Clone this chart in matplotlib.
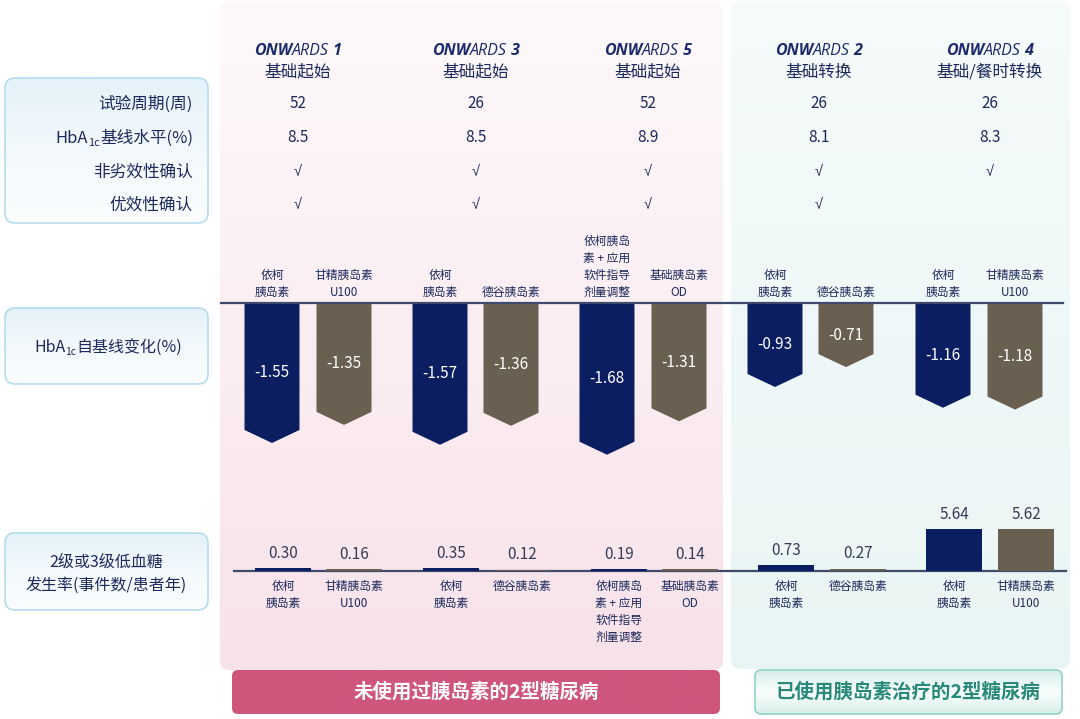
import numpy as np
import matplotlib.pyplot as plt
from matplotlib.patches import FancyBboxPatch, Polygon
from matplotlib.colors import LinearSegmentedColormap

plt.rcParams['font.family'] = ['Noto Sans CJK SC', 'DejaVu Sans']
LAT = ['Open Sans', 'DejaVu Sans']

# ---- data ----
trial_no = ['1', '3', '5', '2', '4']
subtitles = ['基础起始', '基础起始', '基础起始', '基础转换', '基础/餐时转换']
weeks = ['52', '26', '52', '26', '26']
a1c_base = ['8.5', '8.5', '8.9', '8.1', '8.3']
noninferior = ['√', '√', '√', '√', '√']
superior = ['√', '√', '√', '√', '']
efs_names = ['依柯\n胰岛素', '依柯\n胰岛素', '依柯胰岛\n素 + 应用\n软件指导\n剂量调整', '依柯\n胰岛素', '依柯\n胰岛素']
comp_names = ['甘精胰岛素\nU100', '德谷胰岛素', '基础胰岛素\nOD', '德谷胰岛素', '甘精胰岛素\nU100']
a1c_efs = [-1.55, -1.57, -1.68, -0.93, -1.16]
a1c_comp = [-1.35, -1.36, -1.31, -0.71, -1.18]
hypo_efs = [0.30, 0.35, 0.19, 0.73, 5.64]
hypo_comp = [0.16, 0.12, 0.14, 0.27, 5.62]

# ---- layout (pixels) ----
W, H = 1080, 719
col_x = [298, 476, 648, 819, 990]
a1c_x_efs = [272, 440, 607, 775, 943]
a1c_x_comp = [344, 511, 679, 846, 1015]
hypo_x_efs = [283, 451, 619, 786, 954]
hypo_x_comp = [354, 522, 690, 858, 1026]
bw = 55
a1c_zero, a1c_scale = 303, 90.3     # px of 0 and px per % unit
hypo_zero, hypo_scale = 570.5, 7.3

NAVY = '#0c1e62'
BROWN = '#6a6051'
TXT = '#1c2a5c'

fig = plt.figure(figsize=(10.8, 7.19), dpi=100)
fig.patch.set_facecolor('white')
ax = fig.add_axes([0, 0, 1, 1])
ax.axis('off')


def grad_box(x0, y0, x1, y1, colors, r=10, edge='none', lw=1.0, z=0):
    patch = FancyBboxPatch((x0, y0), x1 - x0, y1 - y0,
                           boxstyle=f'round,pad=0,rounding_size={r}',
                           fc='none', ec=edge, lw=lw, zorder=z + 0.5)
    ax.add_patch(patch)
    cmap = LinearSegmentedColormap.from_list('g', colors)
    im = ax.imshow(np.linspace(0, 1, 128).reshape(-1, 1), cmap=cmap,
                   extent=(x0, x1, y1, y0), aspect='auto', zorder=z,
                   interpolation='bilinear')
    im.set_clip_path(patch)


# panels and banners
grad_box(220, 1, 723, 670, ['#fdf9fb', '#fbeef2', '#f8e2ea'], r=10)
grad_box(731, 1, 1070, 669, ['#f6fbfb', '#eff8f8', '#e9f5f4'], r=10)
grad_box(232, 670, 720, 714, ['#cf567c', '#cf567c'], r=6, z=1)
grad_box(755, 670, 1062, 714, ['#d3eee9', '#fbfefd', '#d6efea'], r=6,
         edge='#93d2c6', lw=1.2, z=1)
for y0, y1 in [(78, 223), (308, 384), (533, 610)]:
    grad_box(5, y0, 208, y1, ['#e4f2f9', '#f3f9fc', '#fbfdfe'], r=10,
             edge='#b5dded', lw=1.2, z=1)

ax.set_xlim(0, W)
ax.set_ylim(H, 0)

ax.text(476, 692, '未使用过胰岛素的2型糖尿病', color='white', fontsize=14,
        weight='bold', ha='center', va='center', zorder=3)
ax.text(908, 692, '已使用胰岛素治疗的2型糖尿病', color='#27897a', fontsize=14,
        weight='bold', ha='center', va='center', zorder=3)

renderer = fig.canvas.get_renderer()


def rich(x, y, pieces, ha='center', color=TXT):
    items = []
    for s, size, dy, kw in pieces:
        t = ax.text(0, y + dy, s, fontsize=size, color=color, ha='left',
                    va='baseline', zorder=4, **kw)
        items.append((t, t.get_window_extent(renderer).width))
    total = sum(w for _, w in items)
    x0 = {'left': x, 'center': x - total / 2, 'right': x - total}[ha]
    for t, w in items:
        t.set_x(x0)
        x0 += w


# headers
bi = dict(family=LAT, style='italic', weight='bold')
it = dict(family=LAT, style='italic')
for x, n, sub in zip(col_x, trial_no, subtitles):
    rich(x, 55, [('ONW', 11.5, 0, bi), ('ARDS', 11.5, 0, it), (' ' + n, 11.5, 0, bi)],
         color='#1b2a6b')
    ax.text(x, 72, sub, fontsize=12, color=TXT, ha='center', va='center')

# table rows
row_y = [103, 137, 171, 204]
for y, vals in zip(row_y[:2], [weeks, a1c_base]):
    for x, v in zip(col_x, vals):
        ax.text(x, y, v, fontsize=11, color=TXT, ha='center', va='center')
for y, vals in zip(row_y[2:], [noninferior, superior]):
    for x, v in zip(col_x, vals):
        ax.text(x, y, v, fontsize=10.5, color=TXT, ha='center', va='center',
                family=['Liberation Sans', 'DejaVu Sans'])

# left labels
plain = dict()
rich(193, row_y[0] + 6, [('试验周期(周)', 12, 0, plain)], ha='right')
rich(193, row_y[1] + 6, [('HbA', 12, 0, plain), ('1c', 8, 3, plain),
                         ('基线水平(%)', 12, 0, plain)], ha='right')
rich(193, row_y[2] + 6, [('非劣效性确认', 12, 0, plain)], ha='right')
rich(193, row_y[3] + 6, [('优效性确认', 12, 0, plain)], ha='right')
rich(108, 352, [('HbA', 11.5, 0, plain), ('1c', 7.5, 3, plain),
                ('自基线变化(%)', 11.5, 0, plain)])
ax.text(106, 574, '2级或3级低血糖\n发生率(事件数/患者年)', fontsize=11.5,
        color=TXT, ha='center', va='center', linespacing=1.5)

# arm labels
for xs_a, xs_h, names in [(a1c_x_efs, hypo_x_efs, efs_names),
                          (a1c_x_comp, hypo_x_comp, comp_names)]:
    for xa, xh, nm in zip(xs_a, xs_h, names):
        ax.text(xa, 299, nm, fontsize=8.5, color=TXT, ha='center', va='bottom',
                linespacing=1.4)
        ax.text(xh, 580, nm, fontsize=8.5, color=TXT, ha='center', va='top',
                linespacing=1.4)

# ---- HbA1c change chart ----
ax_a = fig.add_axes([0, 0, 1, 1])
ax_a.axis('off')
ax_a.set_xlim(0, W)
ax_a.set_ylim(-(H - a1c_zero) / a1c_scale, a1c_zero / a1c_scale)
notch = 13 / a1c_scale


def chevron(xc, v, color):
    pts = [(xc - bw / 2, 0), (xc + bw / 2, 0), (xc + bw / 2, v + notch),
           (xc, v), (xc - bw / 2, v + notch)]
    ax_a.add_patch(Polygon(pts, closed=True, fc=color, ec='none', zorder=2))
    ax_a.text(xc, v / 2, f'{v:.2f}', color='white', fontsize=11,
              ha='center', va='center', zorder=3)


for x, v in zip(a1c_x_efs, a1c_efs):
    chevron(x, v, NAVY)
for x, v in zip(a1c_x_comp, a1c_comp):
    chevron(x, v, BROWN)
ax_a.plot([221, 1063], [0, 0], color='#3e4a6c', lw=1.6, zorder=3)

# ---- hypoglycaemia chart ----
ax_h = fig.add_axes([0, 0, 1, 1])
ax_h.axis('off')
ax_h.set_xlim(0, W)
ax_h.set_ylim(-(H - hypo_zero) / hypo_scale, hypo_zero / hypo_scale)
ax_h.plot([234, 1066], [0, 0], color='#3e4a6c', lw=1.6, zorder=1)
ax_h.bar(hypo_x_efs, hypo_efs, width=bw + 1, color=NAVY, zorder=2)
ax_h.bar(hypo_x_comp, hypo_comp, width=bw + 1, color=BROWN, zorder=2)
for xs, vals in [(hypo_x_efs, hypo_efs), (hypo_x_comp, hypo_comp)]:
    for x, v in zip(xs, vals):
        ax_h.annotate(f'{v:.2f}', (x, v), xytext=(0, 4.5), textcoords='offset points',
                      ha='center', va='bottom', fontsize=11, color='#353c58')

fig.savefig('out.png', dpi=100)
